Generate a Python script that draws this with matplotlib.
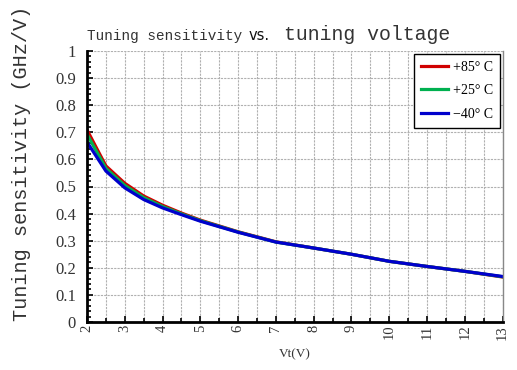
import matplotlib
matplotlib.use("Agg")
import matplotlib.pyplot as plt
from matplotlib.ticker import MultipleLocator

# data
vt = [2, 2.5, 3, 3.5, 4, 4.5, 5, 6, 7, 8, 9, 10, 11, 12, 13]
s_85 = [0.709, 0.576, 0.512, 0.465, 0.431, 0.402, 0.376, 0.333, 0.296, 0.273, 0.250, 0.224, 0.205, 0.187, 0.166]
s_25 = [0.693, 0.567, 0.504, 0.459, 0.426, 0.399, 0.374, 0.332, 0.295, 0.273, 0.250, 0.224, 0.205, 0.187, 0.167]
s_m40 = [0.664, 0.557, 0.495, 0.452, 0.421, 0.396, 0.372, 0.331, 0.295, 0.273, 0.250, 0.224, 0.205, 0.187, 0.168]
etiquetas = ["+85° C", "+25° C", "\u221240° C"]
colores = ["#d00000", "#00b050", "#0000cc"]
x_ticks = list(range(2, 14))
y_ticks = [0, 0.1, 0.2, 0.3, 0.4, 0.5, 0.6, 0.7, 0.8, 0.9, 1]

serif = "Liberation Serif"
mono = "Liberation Mono"
W, H = 517, 370

fig = plt.figure(figsize=(W / 100, H / 100), dpi=100)
ax = fig.add_axes([87 / W, 1 - 322 / H, (502.5 - 87) / W, (322 - 51) / H])

for serie, lab, col in zip([s_85, s_25, s_m40], etiquetas, colores):
    ax.plot(vt, serie, color=col, linewidth=2.3, label=lab)

ax.set_xlim(2, 13)
ax.set_ylim(0, 1)

ax.set_xticks(x_ticks)
ax.set_xticklabels([str(t) for t in x_ticks], rotation=90, fontfamily=serif, fontsize=10.5,
                   color="#333333")
ax.set_yticks(y_ticks)
ax.set_yticklabels(["0" if t == 0 else ("1" if t == 1 else f"{t:.1f}") for t in y_ticks],
                   fontfamily=serif, fontsize=12, color="#333333")
ax.xaxis.set_minor_locator(MultipleLocator(0.5))
ax.yaxis.set_minor_locator(MultipleLocator(0.02))
ax.tick_params(which="both", direction="in", top=False, right=False, width=1.2, color="black")
ax.tick_params(axis="y", which="major", length=4, pad=8)
ax.tick_params(axis="x", which="major", length=4, pad=2)
ax.tick_params(which="minor", length=3)

# grilla punteada
ax.grid(True, which="major", axis="y", color="#b0b0b0", linestyle=(0, (2, 1)), linewidth=0.8)
ax.grid(True, which="both", axis="x", color="#b0b0b0", linestyle=(0, (2, 1)), linewidth=0.8)
ax.set_axisbelow(True)

for lado in ["left", "bottom"]:
    ax.spines[lado].set_linewidth(2)
    ax.spines[lado].set_color("black")
ax.spines["top"].set_visible(False)
ax.spines["right"].set_color("#888888")
ax.spines["right"].set_linewidth(1)

leg = ax.legend(loc="upper right", prop={"family": serif, "size": 10},
                handlelength=2.0, handletextpad=0.3, labelspacing=0.75,
                borderaxespad=0.2, borderpad=0.5, fancybox=False, framealpha=1,
                edgecolor="black")
leg.get_frame().set_linewidth(1)

ax.set_xlabel("Vt(V)", fontfamily=serif, fontsize=9.5, labelpad=6, color="#333333")

# titulo en partes, como en la referencia; cada parte ajustada a su ancho
fig.canvas.draw()
rend = fig.canvas.get_renderer()


def texto_ajustado(x0, x1, y, s, fam, color="#333333"):
    t = fig.text(x0 / W, 1 - y / H, s, fontfamily=fam, fontsize=10, color=color,
                 ha="left", va="baseline")
    bb = t.get_window_extent(rend)
    t.set_fontsize(10 * (x1 - x0) / bb.width)
    return t


texto_ajustado(87, 243, 40, "Tuning sensitivity", mono)
fig.text(249 / W, 1 - 40 / H, "vs.", fontfamily="DejaVu Sans", fontsize=10.5,
         color="#111111", ha="left", va="baseline")
texto_ajustado(284, 452, 40, "tuning voltage", mono)

yl = fig.text(22 / W, 1 - 163 / H, "Tuning sensitivity (GHz/V)", fontfamily=mono,
              fontsize=10, rotation=90, ha="center", va="center", color="#333333")
alto = yl.get_window_extent(rend).height
yl.set_fontsize(10 * 318 / alto)

fig.savefig("out.png", dpi=100)
plt.close(fig)
